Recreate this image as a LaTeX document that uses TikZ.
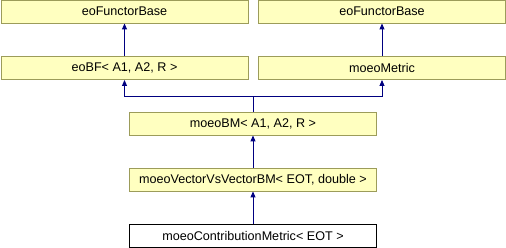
\documentclass[tikz,border=0pt]{standalone}
\usepackage{fontspec}
\setmainfont{Liberation Sans}
\usetikzlibrary{arrows.meta}
\definecolor{boxfill}{HTML}{FFFFC0}
\definecolor{boxline}{HTML}{9C9C5A}
\definecolor{edgecol}{HTML}{000080}
\begin{document}
\begin{tikzpicture}[x=1pt,y=-1pt,
  cls/.style={draw=boxline,fill=boxfill,line width=0.9pt,minimum width=247pt,minimum height=23pt,inner sep=0pt,font=\fontsize{12.6}{14}\selectfont},
  cur/.style={cls,draw=black,fill=white},
  arr/.style={draw=edgecol,line width=0.9pt,-{Triangle[length=6pt,width=5pt]}},
  ln/.style={draw=edgecol,line width=0.9pt}]
\useasboundingbox (0,0) rectangle (506,248);
\node[cls] (fb1) at (124.5,11.5) {eoFunctorBase};
\node[cls] (fb2) at (382,11.5) {eoFunctorBase};
\node[cls] (eobf) at (124.5,68) {eoBF< A1, A2, R >};
\node[cls] (metric) at (382,68) {moeoMetric};
\node[cls] (bm) at (253,123.5) {moeoBM< A1, A2, R >};
\node[cls] (vv) at (253,179.5) {moeoVectorVsVectorBM< EOT, double >};
\node[cur] (cm) at (253,235.5) {moeoContributionMetric< EOT >};
\coordinate (fork) at (253,96);
\draw[arr] (eobf.north) -- (fb1.south);
\draw[arr] (metric.north) -- (fb2.south);
\draw[ln] (bm.north) -- (fork);
\draw[arr] (fork) -| (eobf.south);
\draw[arr] (fork) -| (metric.south);
\draw[arr] (vv.north) -- (bm.south);
\draw[arr] (cm.north) -- (vv.south);
\end{tikzpicture}
\end{document}
